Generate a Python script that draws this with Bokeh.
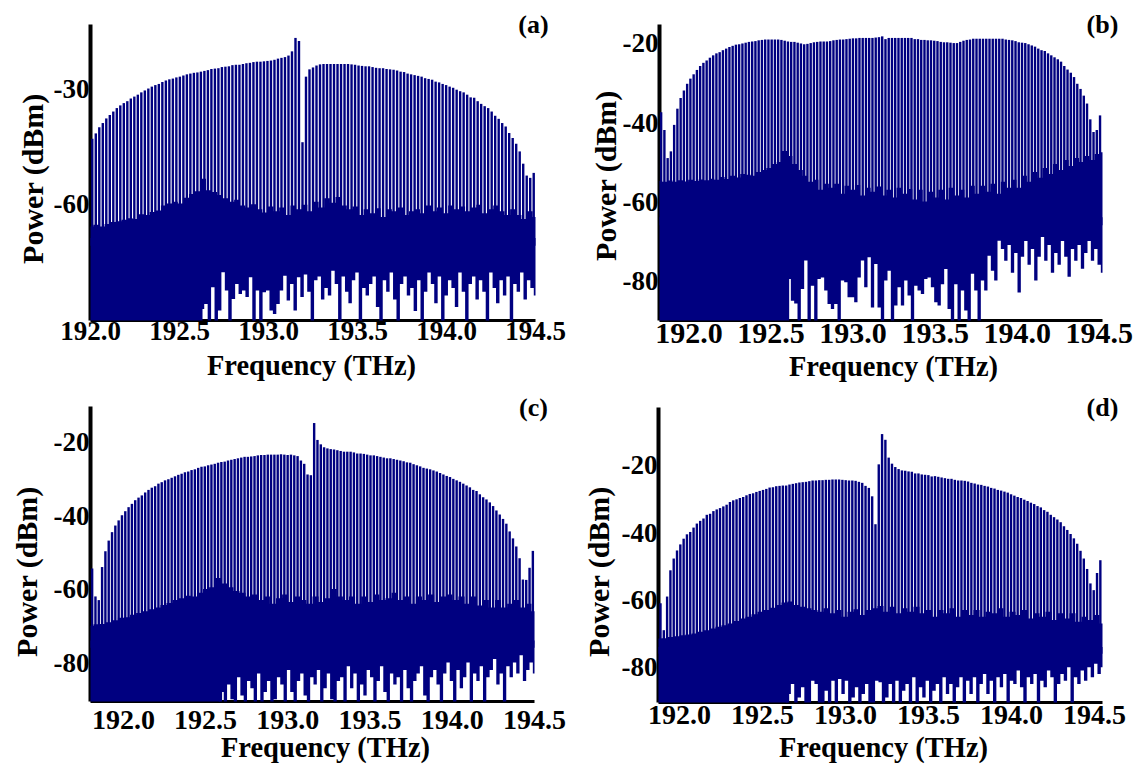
from bokeh.plotting import figure
from bokeh.layouts import column, row
from bokeh.models import FixedTicker, Label
from bokeh.embed import file_html
from bokeh.resources import INLINE
import numpy as np

NAVY = "#000080"
SERIF = "Liberation Serif"

# ---------- panel (a) ----------
a_peaks = [-43.1,-41.7,-40.1,-39.0,-37.8,-36.9,-36.0,-35.1,-34.4,-33.8,-33.3,-32.6,-32.1,-31.6,-31.0,-30.5,-30.0,-29.5,-29.1,-28.8,
 -28.3,-27.9,-27.6,-27.4,-27.1,-26.9,-26.6,-26.3,-26.1,-25.9,-25.8,-25.6,-25.4,-25.2,-24.9,-24.8,-24.7,-24.4,-24.3,-24.2,
 -23.9,-23.8,-23.8,-23.6,-23.4,-23.3,-23.1,-23.0,-23.0,-22.9,-22.8,-22.7,-22.5,-22.2,-22.0,-21.8,-21.4,-20.3,-16.8,-17.6,-44.0,
 -26.9,-25.0,-24.5,-24.0,-23.7,-23.6,-23.6,-23.6,-23.6,-23.6,-23.6,-23.6,-23.6,-23.7,-23.8,-24.0,-24.1,-24.2,-24.2,-24.4,-24.6,
 -24.7,-24.7,-24.9,-25.0,-25.1,-25.3,-25.6,-25.7,-26.1,-26.3,-26.5,-26.7,-26.9,-27.3,-27.5,-27.7,-28.2,-28.4,-28.8,-29.1,-29.5,
 -29.8,-30.3,-30.7,-31.0,-31.6,-32.3,-32.4,-33.3,-34.0,-34.6,-35.1,-36.0,-37.1,-37.9,-39.0,-39.9,-41.6,-42.9,-44.4,-46.4,-49.6,
 -52.7,-53.3,-52.0]
a_floor_top = [-66,-65.5,-66,-65.3,-64.8,-64.6,-64.2,-63.8,-64,-62.8,-63,-62.2,-61.8,-60.5,-60,-59.5,-60,-58.5,-57.5,-56.8,-53.5,-56.5,-57,-57.8,
 -58.6,-59.5,-59,-60.5,-61,-60.2,-61.5,-62.3,-60.8,-62,-61,-63,-60.5,-61.5,-60.3,-62,-59.5,-61,-58.6,-59.8,-58.3,-60.5,-61.5,-60.8,-63,-61.5,-62.5,-61.2,-63.5,-61.5,
 -62,-61,-63,-62,-61.5,-62.5,-60.5,-62,-61,-62.5,-60.5,-61.5,-60.8,-62,-61,-60.3,-62.5,-61.5,-60.5,-62,-63,-61.5,-63,-64,-62,-63.5]
a_floor_low = [-82.7,-87.5,-86.2,-95,-81.8,-95,-87.9,-77.9,-82.7,-95,-84.9,-81,-83.6,-82.7,-84.4,-79.2,-95,-82.7,-95,-83.1,-82.7,-87.9,-88.8,-86.2,-82.7,-78.8,-85.3,-81,-87.9,-79.2,-84.4,
 -78.5,-83,-95,-80,-79,-85,-82,-84,-77.5,-81,-95,-79,-83,-86,-80,-78,-95,-82,-84,-81,-79,-87,-95,-80,-83,-78,-85,-95,-81,-79,-84,-82,-88,-80,-95,-83,-78,-81,-86,
 -79,-95,-84,-80,-82,-87,-78,-83,-95,-81,-79,-85,-80,-83,-95,-78,-82,-86,-80,-84,-79,-95,-81,-83,-78,-85,-80,-82,-84]

# ---------- panel (b) ----------
b_peaks = [-37.4,-41.9,-49.0,-47.3,-40.6,-36.5,-33.8,-31.9,-30.2,-28.9,-27.8,-26.7,-25.7,-24.9,-24.3,-23.6,-23.0,-22.5,-22.2,-21.7,
 -21.3,-20.9,-20.6,-20.3,-20.2,-20.0,-19.8,-19.6,-19.5,-19.4,-19.2,-19.1,-19.0,-19.0,-19.0,-19.0,-19.0,-19.1,-19.3,-19.5,
 -19.6,-19.6,-19.8,-20.0,-20.2,-20.1,-19.9,-19.7,-19.6,-19.5,-19.5,-19.5,-19.4,-19.2,-19.1,-19.0,-19.0,-18.9,-18.8,-18.7,-18.7,
 -18.6,-18.6,-18.6,-18.6,-18.6,-18.5,-18.4,-18.2,-18.9,-18.6,-18.6,-18.6,-18.6,-18.6,-18.6,-18.6,-18.6,-18.9,-18.9,-19.1,-19.1,
 -19.2,-19.2,-19.3,-19.4,-19.6,-19.7,-19.7,-19.8,-19.9,-19.9,-19.6,-19.3,-19.1,-19.0,-18.8,-18.8,-18.8,-18.8,-18.8,-18.8,-18.8,
 -18.8,-18.8,-18.8,-19.0,-19.1,-19.2,-19.4,-19.7,-19.8,-19.9,-20.2,-20.5,-20.8,-21.3,-21.7,-21.9,-22.5,-23.0,-23.5,-24.0,-24.6,
 -25.7,-26.6,-27.4,-28.5,-30.2,-31.5,-33.2,-35.2,-39.2,-42.4,-41.9,-38.2]
b_floor_top = [-54.8,-55,-54.7,-55,-54.6,-54.9,-54.5,-54.8,-54.4,-54.6,-54.2,-54.5,-53.8,-54.3,-53.5,-53.9,-53,-53.2,-53.5,-52.5,-52,-51.5,-50.5,-50,-47.2,-48.5,-50.5,-52,-53.5,-55,
 -54.5,-57,-55.5,-56.5,-55.5,-58,-56,-57,-55.8,-58.5,-56.5,-57.5,-56.2,-58.5,-57,-59,-56.5,-58,-56.8,-59.5,-57,-60,-57.5,-59,-57,-59.5,-56.5,-58.5,-57,-59,
 -56,-58,-56,-57.5,-55.5,-58,-55,-56.5,-54.5,-56.5,-53.5,-55,-52.5,-54,-51.5,-53,-50.5,-52,-49.5,-51,-49,-50,-48.5,-49.5,-48,-47.5]
b_floor_low = [-80,-79.6,-85.1,-85.8,-95,-82.1,-74.9,-95,-81.3,-95,-79.6,-79.2,-82.5,-85.9,-87.2,-85.9,-95,-80,-80.4,-84.2,-84.2,-85.5,-79.2,-74.9,-81.7,-74.1,-86.8,-75.8,-86.8,-95,
 -80,-77.5,-95,-86.3,-81.7,-86.3,-80,-83.8,-95,-81.3,-82.5,-83.4,-79.6,-79.2,-81.7,-85.5,-86.3,-80.9,-77.1,-87.2,-95,-80.9,-95,-82.5,-87.6,-95,-78.3,-82.5,-95,-80,-82.5,-73.7,-77.5,-80,-69.9,
 -72,-75,-71,-78,-73,-83,-74,-70,-76,-72,-80,-74,-69,-75,-71,-78,-73,-76,-70,-74,-79,-72,-75,-71,-77,-73,-70,-75,-72,-76,-78]

# ---------- panel (c) ----------
c_peaks = [-54.4,-62.0,-63.0,-54.0,-49.7,-46.8,-44.5,-42.7,-41.3,-39.9,-38.8,-37.7,-36.8,-35.8,-35.1,-34.5,-33.7,-33.0,-32.4,-32.0,
 -31.3,-30.9,-30.4,-30.1,-29.7,-29.3,-28.9,-28.6,-28.2,-28.0,-27.6,-27.4,-27.0,-26.7,-26.6,-26.3,-26.1,-25.9,-25.6,-25.4,
 -25.3,-25.0,-24.8,-24.6,-24.4,-24.2,-24.0,-24.0,-23.9,-23.8,-23.6,-23.5,-23.5,-23.4,-23.4,-23.4,-23.4,-23.3,-23.4,-23.5,-23.4,-23.6,
 -23.8,-25.0,-25.9,-28.8,-29.0,-14.8,-19.4,-20.6,-21.4,-21.7,-21.9,-22.0,-22.2,-22.4,-22.6,-22.6,-22.6,-22.8,-23.1,-23.1,-23.2,-23.4,
 -23.6,-23.6,-23.8,-24.0,-24.2,-24.4,-24.4,-24.6,-24.8,-25.0,-25.2,-25.5,-25.6,-26.0,-26.3,-26.6,-27.0,-27.2,-27.4,-27.7,-28.0,-28.4,
 -28.8,-29.2,-29.5,-30.0,-30.4,-30.8,-31.3,-31.8,-32.3,-33.0,-33.3,-34.2,-35.0,-35.6,-36.4,-37.4,-38.6,-39.7,-40.9,-42.2,-44.3,-46.2,
 -48.4,-51.6,-57.4,-57.5,-54.2,-49.6]
c_floor_top = [-70,-69.6,-69.5,-69,-68.5,-67.8,-67.7,-67,-66.5,-66,-65.5,-65,-64.3,-63.8,-63,-62.5,-61.8,-62,
 -61,-60,-59.5,-57,-58.5,-59.5,-60.5,-61,-62,-61.5,-63,-62,-64,-62.5,-61.5,-63.5,-62,-63,-64,-62,-63.5,-62.5,-60,-62,-63,-62,-64,-62,-63.5,-61.5,
 -63,-62.5,-61,-63,-62,-64,-62,-63,-61.5,-63.5,-62,-61.5,-63,-62,-64,-62,-64.5,-63,-65,-63,-65,-64,-63,-65,-64,-66]
c_floor_low = [-95,-88,-95,-86,-90,-95,-84,-89,-95,-85,-87,-95,-83,-95,-88,-85,-95,-90,-84,-86,-95,-82,-88,-95,-85,-83,-89,-95,-84,-86,
 -82,-95,-87,-83,-90,-95,-85,-84,-95,-81,-87,-83,-95,-86,-89,-82,-84,-95,-85,-81,-88,-95,-83,-86,-84,-95,-82,-87,-95,-85,-83,-81,-89,-95,-84,
 -82,-86,-95,-83,-80,-85,-95,-82,-87,-84,-80,-95,-83,-85,-81,-95,-84,-82,-79,-86,-83,-95,-81,-84,-80,-83,-78,-85,-82,-80,-83]

# ---------- panel (d) ----------
d_peaks = [-61.0,-69.0,-59.0,-51.2,-47.7,-45.3,-43.5,-41.8,-40.5,-39.8,-38.5,-37.3,-36.5,-35.8,-34.7,-34.4,-33.6,-33.1,-32.7,-32.2,
 -31.7,-30.9,-30.4,-30.1,-29.7,-29.4,-28.9,-28.5,-28.3,-27.9,-27.6,-27.3,-27.0,-26.6,-26.5,-26.2,-26.1,-26.0,-26.0,-25.7,
 -25.5,-25.3,-25.1,-25.0,-24.9,-24.7,-24.5,-24.5,-24.4,-24.4,-24.3,-24.3,-24.2,-24.2,-24.2,-24.3,-24.4,-24.5,-24.5,-24.6,-24.9,-25.2,
 -26.1,-26.7,-29.2,-37.5,-19.7,-10.7,-12.4,-17.7,-19.5,-20.5,-21.1,-21.5,-21.6,-21.8,-21.9,-22.4,-22.4,-22.7,-22.8,-22.9,-23.3,-23.2,
 -23.4,-23.6,-23.8,-24.0,-24.0,-24.3,-24.5,-24.5,-24.6,-24.8,-25.2,-25.4,-25.7,-25.8,-26.1,-26.3,-26.7,-26.9,-27.3,-27.5,-27.8,-28.1,
 -28.6,-29.0,-29.4,-29.7,-30.2,-30.6,-31.1,-31.5,-32.1,-32.5,-33.3,-33.8,-34.7,-35.4,-36.1,-36.9,-38.1,-39.2,-40.4,-41.7,-43.3,-45.4,
 -47.7,-50.8,-55.1,-57.1,-52.0,-48.2]
d_floor_top = [-71.5,-71.4,-71,-70.8,-70.5,-70.3,-70,-69.5,-69,-68.5,-68,-67.5,-67,-66.3,-65.5,-65,-64.3,-63.5,-63,-62.3,
 -61.5,-60.8,-60.5,-61.5,-62,-62.5,-63,-63.5,-62.5,-64,-63,-65,-63.5,-62.8,-64.5,-63,-62.5,-61.8,-63.5,-62,-64,-62.5,-63.5,-62,-64,-63,-65,-63,-64,
 -62.5,-65,-63,-64.5,-63,-65,-63.5,-64,-62.5,-65,-63.5,-64.5,-63,-65.5,-64,-65,-63.5,-66,-64,-65.5,-64,-66.5,-65,-66,-64.5,-67]
d_floor_low = [-95,-88,-85,-95,-89,-86,-95,-95,-84,-85,-95,-95,-87,-95,-84,-95,-83.5,-88,-84,-95,-89,-86,-95,-88,-85,-95,-95,-84,-84.5,-95,
 -89,-85,-95,-84,-95,-87,-85,-95,-83,-95,-86,-89,-84,-95,-87,-85,-95,-83,-88,-85,-95,-86,-83,-95,-84,-88,-83,-95,-85,-82,-88,-84,-95,-83,-86,
 -82,-95,-84,-85,-81,-86,-95,-83,-85,-82,-95,-84,-86,-81,-83,-95,-85,-82,-84,-80,-95,-83,-85,-81,-84,-80,-83,-79,-82,-80]

x_tick_values = [192.0, 192.5, 193.0, 193.5, 194.0, 194.5]
x_tick_labels = ["192.0", "192.5", "193.0", "193.5", "194.0", "194.5"]
a_y_ticks, a_y_labels = [-30, -60], ["-30", "-60"]
bcd_y_ticks, bcd_y_labels = [-20, -40, -60, -80], ["-20", "-40", "-60", "-80"]
x_title = "Frequency (THz)"
y_title = "Power (dBm)"

def caption(p, text, x, y, size, angle=0.0):
    p.add_layout(Label(x=x, y=y, x_units="screen", y_units="screen", text=text, text_font=SERIF,
                       text_font_style="bold", text_font_size=size, text_align="center",
                       text_baseline="middle", text_color="black", angle=angle))

def panel(tag, peaks, top, low, xr, yr, first, last, low_start, base, yt, yl,
          w, h, box, tag_xy, xtitle_xy, ytitle_xy, xfont, xstand):
    # box = pixel left, right, top, bottom of the plotted area inside this canvas
    left, right, ptop, pbot = box
    sx = (xr[1] - xr[0]) / (right - left)
    sy = (yr[1] - yr[0]) / (pbot - ptop)
    p = figure(width=w, height=h,
               x_range=(xr[0] - left * sx, xr[1] + (w - right) * sx),
               y_range=(yr[0] - (h - pbot) * sy, yr[1] + ptop * sy),
               output_backend="svg", toolbar_location=None,
               min_border_left=0, min_border_right=0, min_border_top=0, min_border_bottom=0)
    p.outline_line_color = None
    p.grid.visible = False
    xp = np.linspace(first, last, len(peaks))
    xt = np.linspace(xr[0], xr[1], len(top))
    xl = np.linspace(low_start, xr[1], len(low))
    low_clipped = np.maximum(low, yr[0])
    p.varea_step(x=xt, y1=top, y2=[base - 1] * len(top), step_mode="center", fill_color=NAVY, level="overlay")
    p.varea_step(x=xl, y1=[base + 1] * len(low), y2=low_clipped, step_mode="center", fill_color=NAVY, level="overlay")
    p.varea(x=[xr[0], xl[1]], y1=[base + 1] * 2, y2=[yr[0]] * 2, fill_color=NAVY, level="overlay")
    p.segment(xp, base, xp, peaks, line_color=NAVY, line_width=2.4, level="overlay")
    for ax in (p.xaxis[0], p.yaxis[0]):
        ax.major_tick_line_color = None
        ax.minor_tick_line_color = None
        ax.major_label_text_font = SERIF
        ax.major_label_text_font_style = "bold"
        ax.major_label_text_font_size = "27px"
        ax.major_label_text_color = "black"
        ax.axis_line_color = "black"
        ax.major_tick_in = 0
        ax.major_tick_out = 0
    p.xaxis[0].major_label_text_font_size = xfont
    p.xaxis[0].fixed_location = yr[0]
    p.yaxis[0].fixed_location = xr[0]
    p.xaxis[0].bounds = xr
    p.yaxis[0].bounds = yr
    p.xaxis[0].axis_line_width = 3
    p.yaxis[0].axis_line_width = 4
    p.xaxis[0].ticker = FixedTicker(ticks=x_tick_values)
    p.xaxis[0].major_label_overrides = dict(zip(x_tick_values, x_tick_labels))
    p.yaxis[0].ticker = FixedTicker(ticks=yt)
    p.yaxis[0].major_label_overrides = dict(zip(yt, yl))
    p.xaxis[0].major_label_standoff = xstand
    p.yaxis[0].major_label_standoff = 1
    caption(p, tag, tag_xy[0], tag_xy[1], "26px")
    caption(p, x_title, xtitle_xy[0], xtitle_xy[1], "28.5px")
    caption(p, y_title, ytitle_xy[0], ytitle_xy[1], "30px", angle=np.pi / 2)
    return p

pa = panel("(a)", a_peaks, a_floor_top, a_floor_low, (192.0, 194.5), (-90.5, -13.3), 192.01, 194.49, 192.61, -70,
           a_y_ticks, a_y_labels, 570, 385, (90, 535, 24, 320), (533, 361), (311, 20), (32, 207), "27px", 1)
pb = panel("(b)", b_peaks, b_floor_top, b_floor_low, (191.82, 194.52), (-90.1, -15.2), 191.83, 194.505, 192.59, -65,
           bcd_y_ticks, bcd_y_labels, 568, 385, (89, 532, 24, 320), (532, 361), (323, 19), (35, 210), "30px", 3)
pc = panel("(c)", c_peaks, c_floor_top, c_floor_low, (191.8, 194.5), (-90.6, -10.3), 191.81, 194.49, 192.58, -75,
           bcd_y_ticks, bcd_y_labels, 570, 380, (90, 534, 21, 316), (533, 358), (325, 18), (26, 194), "28px", 9)
pd = panel("(d)", d_peaks, d_floor_top, d_floor_low, (191.873, 194.548), (-90.5, -2.8), 191.885, 194.535, 192.64, -75,
           bcd_y_ticks, bcd_y_labels, 568, 380, (88, 532, 22, 317), (532, 358), (313, 18), (28, 194), "28px", 3)

layout = column(row(pa, pb, spacing=0), row(pc, pd, spacing=0), spacing=0)
open("out.html", "w").write(file_html(layout, INLINE))
